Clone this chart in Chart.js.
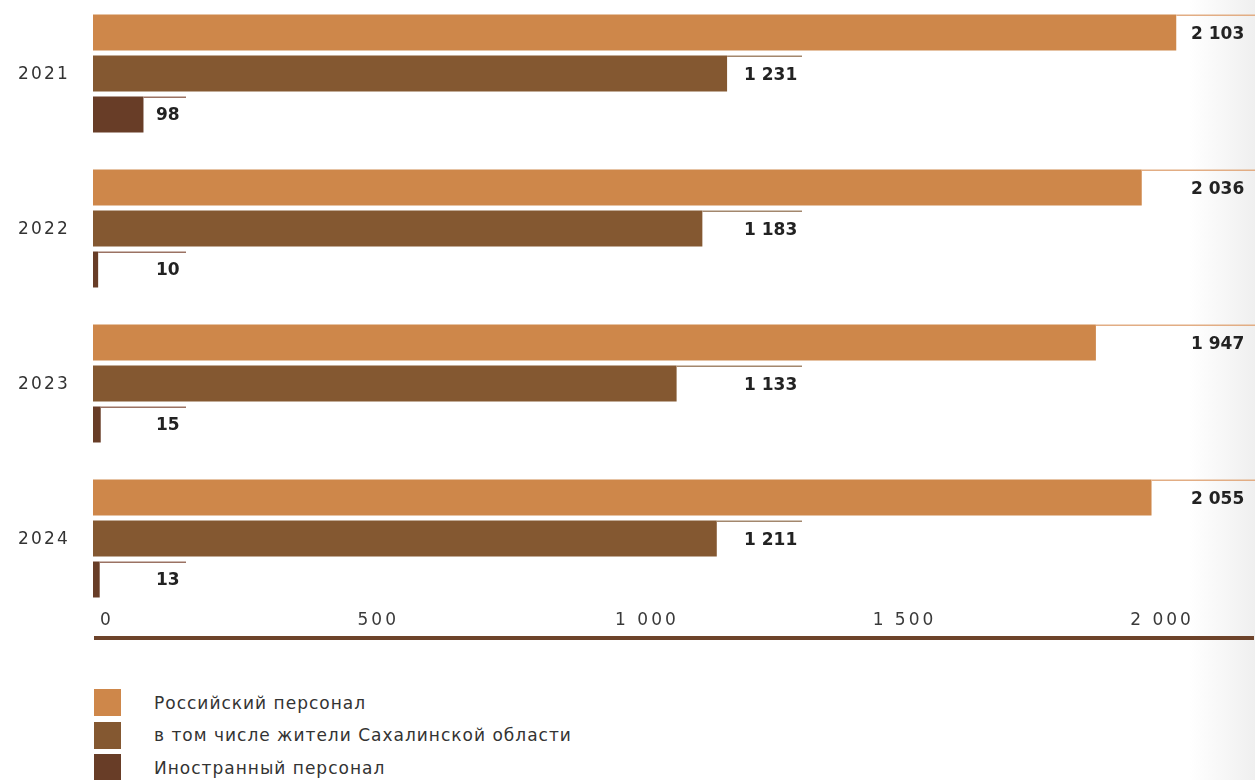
<!DOCTYPE html>
<html>
<head>
<meta charset="utf-8">
<script src="https://cdn.jsdelivr.net/npm/chart.js@4.4.1/dist/chart.umd.min.js"></script>
<style>
  html, body { margin: 0; padding: 0; background: #fff; width: 1255px; height: 780px; overflow: hidden; position: relative; font-family: 'DejaVu Sans', sans-serif; }
  #shade { position: absolute; left: 1190px; top: 0; width: 65px; height: 780px; background: linear-gradient(to right, rgba(241,241,241,0), #efefef); }
  #wrap { position: absolute; left: 0; top: -4px; width: 1255px; height: 660px; }
  #legend { position: absolute; left: 94px; top: 689px; }
  .item { display: flex; align-items: center; height: 27px; margin-bottom: 5.5px; }
  .sw { width: 27px; height: 27px; margin-right: 33px; flex: none; }
  .tx { font-size: 17px; color: #333; letter-spacing: 1px; white-space: nowrap; }
</style>
</head>
<body>
<div id="shade"></div>
<div id="wrap"><canvas id="c"></canvas></div>
<div id="legend"></div>
<script>
// Staff headcount by year
const years = ['2021', '2022', '2023', '2024'];
const russianStaff = [2103, 2036, 1947, 2055];
const sakhalinResidents = [1231, 1183, 1133, 1211];
const foreignStaff = [98, 10, 15, 13];
const seriesNames = ['Российский персонал', 'в том числе жители Сахалинской области', 'Иностранный персонал'];
const xTickValues = [0, 500, 1000, 1500, 2000];

const seriesColors = ['#ce874a', '#845831', '#683d27'];
// value label placement per series: leader line end and text start (px)
const labelStyle = [
  { lineColor: '#e2ad84', lineEnd: 1255, textX: 1191 },
  { lineColor: '#a3876d', lineEnd: 802, textX: 744 },
  { lineColor: '#9b7263', lineEnd: 186, textX: 156 }
];

const fmt = v => String(v).replace(/\B(?=(\d{3})+(?!\d))/g, ' ');

const valueLabels = {
  id: 'valueLabels',
  afterDatasetsDraw(chart) {
    const ctx = chart.ctx;
    chart.data.datasets.forEach((ds, i) => {
      const meta = chart.getDatasetMeta(i);
      const st = labelStyle[i];
      meta.data.forEach((bar, j) => {
        const top = bar.y - bar.height / 2;
        ctx.save();
        ctx.letterSpacing = '0px';
        ctx.strokeStyle = st.lineColor;
        ctx.lineWidth = 1.5;
        ctx.beginPath();
        ctx.moveTo(bar.x, top + 0.75);
        ctx.lineTo(st.lineEnd, top + 0.75);
        ctx.stroke();
        ctx.font = 'bold 17px "DejaVu Sans"';
        ctx.fillStyle = '#222';
        ctx.textAlign = 'left';
        ctx.textBaseline = 'alphabetic';
        ctx.fillText(fmt(ds.data[j]), st.textX, bar.y + 6);
        ctx.restore();
      });
    });
  }
};

// category labels on the left and value axis below, placed from the chart's scales
const axesText = {
  id: 'axesText',
  afterDraw(chart) {
    const ctx = chart.ctx;
    const xs = chart.scales.x;
    const ys = chart.scales.y;
    const area = chart.chartArea;
    ctx.save();
    ctx.font = '17px "DejaVu Sans"';
    ctx.fillStyle = '#333';
    ctx.letterSpacing = '2.2px';
    ctx.textAlign = 'left';
    ctx.textBaseline = 'middle';
    chart.data.labels.forEach((lab, i) => {
      ctx.fillText(lab, 18, ys.getPixelForValue(i) + 1);
    });
    ctx.fillStyle = '#6d432a';
    ctx.fillRect(area.left + 1, area.bottom + 20, area.right - area.left, 4);
    ctx.fillStyle = '#3a3a3a';
    ctx.letterSpacing = '3px';
    ctx.textBaseline = 'alphabetic';
    xs.ticks.forEach(t => {
      ctx.fillText(fmt(t.value), xs.getPixelForValue(t.value) + 7, area.bottom + 9);
    });
    ctx.restore();
  }
};

const chart = new Chart(document.getElementById('c'), {
  type: 'bar',
  data: {
    labels: years,
    datasets: [
      { label: seriesNames[0], data: russianStaff, backgroundColor: seriesColors[0] },
      { label: seriesNames[1], data: sakhalinResidents, backgroundColor: seriesColors[1] },
      { label: seriesNames[2], data: foreignStaff, backgroundColor: seriesColors[2] }
    ]
  },
  options: {
    indexAxis: 'y',
    responsive: true,
    maintainAspectRatio: false,
    animation: false,
    events: [],
    layout: { padding: { left: 93, right: 2, top: 0, bottom: 40 } },
    datasets: { bar: { categoryPercentage: 0.7935, barPercentage: 0.878, borderWidth: 0 } },
    plugins: { legend: { display: false }, tooltip: { enabled: false } },
    scales: {
      x: {
        display: false,
        min: 0, max: 2252,
        afterBuildTicks(s) { s.ticks = xTickValues.map(v => ({ value: v })); }
      },
      y: { display: false }
    }
  },
  plugins: [valueLabels, axesText]
});

// legend list built from the datasets
const legendEl = document.getElementById('legend');
chart.data.datasets.forEach(ds => {
  const item = document.createElement('div');
  item.className = 'item';
  const sw = document.createElement('div');
  sw.className = 'sw';
  sw.style.background = ds.backgroundColor;
  const tx = document.createElement('span');
  tx.className = 'tx';
  tx.textContent = ds.label;
  item.appendChild(sw);
  item.appendChild(tx);
  legendEl.appendChild(item);
});
</script>
</body>
</html>
